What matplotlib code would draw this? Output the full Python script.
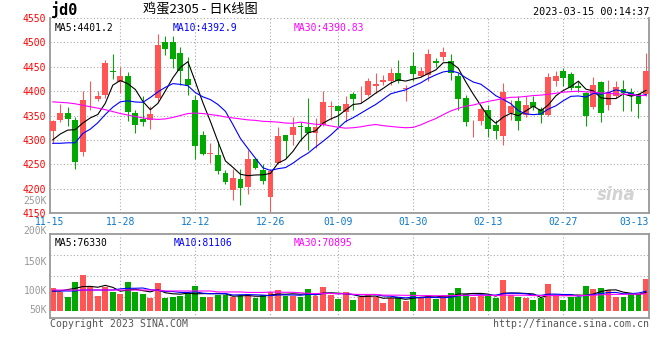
import numpy as np
import matplotlib.pyplot as plt

plt.rcParams['font.family'] = ['DejaVu Sans Mono', 'Noto Sans CJK SC']

# ---- data (egg futures jd2305, daily) ----
x_labels = ['11-15', '11-28', '12-12', '12-26', '01-09', '01-30', '02-13', '02-27', '03-13']
x_label_idx = [0, 9, 19, 29, 38, 48, 58, 68, 78]

open_ = [4318, 4340, 4355, 4341, 4275, 4389, 4384, 4393, 4442, 4418,
         4430, 4356, 4343, 4341, 4386, 4500, 4500, 4478, 4425, 4382,
         4311, 4272, 4268, 4233, 4197, 4219, 4204, 4260, 4239, 4182,
         4253, 4310, 4309, 4328, 4327, 4314, 4330, 4368, 4370, 4358,
         4395, 4385, 4392, 4410, 4418, 4420, 4438, 4405, 4452, 4432,
         4433, 4461, 4469, 4462, 4431, 4386, 4330, 4338, 4361, 4331,
         4307, 4355, 4380, 4352, 4378, 4363, 4352, 4420, 4441, 4435,
         4411, 4396, 4367, 4418, 4372, 4390, 4405, 4399, 4394, 4395]
high = [4340, 4374, 4367, 4347, 4401, 4421, 4401, 4464, 4476, 4449,
        4440, 4362, 4390, 4370, 4517, 4514, 4514, 4491, 4471, 4392,
        4318, 4294, 4297, 4239, 4241, 4241, 4280, 4262, 4250, 4239,
        4326, 4311, 4347, 4336, 4386, 4345, 4401, 4379, 4372, 4389,
        4399, 4410, 4427, 4438, 4433, 4448, 4464, 4413, 4481, 4449,
        4486, 4467, 4491, 4476, 4437, 4393, 4341, 4372, 4372, 4341,
        4416, 4382, 4389, 4389, 4389, 4367, 4437, 4442, 4447, 4440,
        4420, 4399, 4430, 4420, 4423, 4420, 4423, 4406, 4396, 4479]
low = [4294, 4336, 4328, 4241, 4267, 4362, 4379, 4386, 4424, 4396,
       4338, 4314, 4329, 4323, 4379, 4474, 4447, 4413, 4392, 4260,
       4268, 4253, 4229, 4209, 4177, 4167, 4190, 4241, 4209, 4153,
       4250, 4263, 4290, 4297, 4280, 4284, 4328, 4341, 4329, 4336,
       4362, 4376, 4389, 4397, 4413, 4413, 4416, 4379, 4420, 4430,
       4420, 4450, 4461, 4423, 4362, 4329, 4306, 4331, 4306, 4301,
       4290, 4341, 4321, 4347, 4362, 4335, 4348, 4411, 4411, 4403,
       4399, 4329, 4363, 4336, 4362, 4386, 4359, 4359, 4345, 4389]
close = [4338, 4355, 4343, 4254, 4382, 4391, 4390, 4458, 4440, 4430,
         4358, 4331, 4336, 4354, 4495, 4486, 4466, 4442, 4413, 4288,
         4272, 4274, 4236, 4214, 4222, 4201, 4260, 4243, 4216, 4236,
         4307, 4297, 4327, 4327, 4314, 4327, 4377, 4369, 4359, 4374,
         4384, 4386, 4420, 4415, 4423, 4438, 4420, 4407, 4435, 4442,
         4476, 4457, 4481, 4437, 4384, 4336, 4331, 4364, 4322, 4318,
         4399, 4370, 4338, 4372, 4367, 4352, 4430, 4431, 4427, 4407,
         4407, 4348, 4413, 4356, 4399, 4408, 4396, 4389, 4373, 4442]
# volume in thousands of lots
volume = [96, 79, 58, 121, 148, 100, 61, 97, 79, 69,
          121, 79, 69, 54, 117, 54, 58, 61, 75, 103,
          58, 58, 65, 65, 55, 65, 65, 51, 65, 79,
          86, 61, 61, 55, 90, 61, 100, 65, 49, 79,
          44, 58, 69, 55, 33, 51, 55, 42, 79, 51,
          65, 49, 61, 75, 96, 69, 58, 61, 61, 54,
          128, 65, 58, 54, 44, 54, 111, 61, 44, 55,
          55, 103, 90, 96, 86, 58, 55, 68, 68, 132]

# moving-average values before a full window exists
ma5_head = [4300, 4312, 4320, 4321]
ma10_head = [4293, 4293, 4294, 4294, 4313, 4322, 4335, 4352, 4367]
ma30_head = [4378, 4377, 4376, 4374, 4371, 4368, 4365, 4362, 4358, 4354,
             4351, 4348, 4345, 4343, 4342, 4343, 4346, 4350, 4354, 4355,
             4354, 4352, 4350, 4347, 4345, 4343, 4341, 4340, 4338]
vma5_head = [82, 82, 88, 93]
vma10_head = [82, 82, 82, 82, 86, 86, 86, 86, 86]
vma30_head = [86] * 15 + [82] * 7 + [78] * 4 + [76] * 3


def moving_avg(vals, n, head):
    out = list(head)
    for i in range(n - 1, len(vals)):
        out.append(np.mean(vals[i - n + 1:i + 1]))
    return np.array(out)


RED = '#ff5555'
GREEN = '#00a800'
GRID = '#aaaaaa'
BORDER = '#999999'
W, H = 660, 360

o = np.array(open_)
c = np.array(close)
hi = np.array(high)
lo = np.array(low)
n = len(c)
x = np.arange(n)
up = c >= o
cols = np.where(up, RED, GREEN)

fig = plt.figure(figsize=(6.6, 3.6), dpi=100)
fig.patch.set_facecolor('white')

xl = (-0.36, 79.4)
ax = fig.add_axes([50 / W, 1 - 213 / H, 599 / W, 195 / H])
vax = fig.add_axes([50 / W, 1 - 318.3 / H, 599 / W, 84 / H])

# ---------- price panel ----------
ax.set_xlim(xl)
ax.set_ylim(4150, 4550)
for lvl in range(4200, 4551, 50):
    ax.axhline(lvl, color=GRID, lw=0.8, ls=(0, (1, 2)), zorder=0, clip_on=False)
for i in x_label_idx[1:-1]:
    ax.axvline(i, color=GRID, lw=0.8, ls=(0, (1, 2)), zorder=0)

ax.vlines(x, lo, hi, colors=cols, lw=0.75, zorder=2)
body_lo = np.minimum(o, c)
body_h = np.maximum(np.abs(c - o), 1.5)
ax.bar(x, body_h, bottom=body_lo, width=0.78, color=cols, zorder=3)

ax.plot(x, moving_avg(close, 5, ma5_head), color='black', lw=0.8, zorder=4)
ax.plot(x, moving_avg(close, 10, ma10_head), color='#0000ff', lw=0.8, zorder=4)
ax.plot(x, moving_avg(close, 30, ma30_head), color='#ff00ff', lw=0.8, zorder=4)

ax.set_yticks(range(4150, 4551, 50))
ax.tick_params(axis='y', length=0, pad=3, labelsize=7, labelcolor='#ff0000')
pos = [xl[0]] + x_label_idx[1:-1] + [xl[1]]
ax.set_xticks(pos)
ax.set_xticklabels(x_labels, fontsize=7, color='#0a78cc')
ax.tick_params(axis='x', length=0, pad=3)
ax.get_xticklabels()[-1].set_ha('right')
for s in ['left', 'right', 'bottom']:
    ax.spines[s].set_color(BORDER)
    ax.spines[s].set_linewidth(1.3)
ax.spines['top'].set_visible(False)

ax.text(0.007, 0.975, 'MA5:4401.2', transform=ax.transAxes, fontsize=7, color='black', va='top')
ax.text(0.205, 0.975, 'MA10:4392.9', transform=ax.transAxes, fontsize=7, color='#0000ff', va='top')
ax.text(0.407, 0.975, 'MA30:4390.83', transform=ax.transAxes, fontsize=7, color='#ff00ff', va='top')
ax.text(0.978, 0.09, 'sina', transform=ax.transAxes, fontsize=12, color='#d2d2d2',
        style='italic', weight='bold', family='DejaVu Sans', ha='right', va='center')

# ---------- volume panel ----------
vax.set_xlim(xl)
vlo, vhi = -31.6, 317.8
vax.set_ylim(vlo, vhi)
for f in (0.25, 0.5, 0.75):
    vax.axhline(vlo + f * (vhi - vlo), color=GRID, lw=0.8, ls=(0, (1, 2)), zorder=0)
for i in x_label_idx[1:-1]:
    vax.axvline(i, color=GRID, lw=0.8, ls=(0, (1, 2)), zorder=0)
vax.bar(x, volume, width=0.78, color=cols, zorder=2)
vax.plot(x, moving_avg(volume, 5, vma5_head), color='black', lw=0.8, zorder=3)
vax.plot(x, moving_avg(volume, 10, vma10_head), color='#0000ff', lw=0.8, zorder=3)
vax.plot(x, moving_avg(volume, 30, vma30_head), color='#ff00ff', lw=0.8, zorder=3)
vax.set_xticks([])
vax.set_yticks([])
for s in vax.spines.values():
    s.set_color(BORDER)
    s.set_linewidth(1.3)
vax.text(0.007, 0.95, 'MA5:76330', transform=vax.transAxes, fontsize=7, color='black', va='top')
vax.text(0.207, 0.95, 'MA10:81106', transform=vax.transAxes, fontsize=7, color='#0000ff', va='top')
vax.text(0.407, 0.95, 'MA30:70895', transform=vax.transAxes, fontsize=7, color='#ff00ff', va='top')

# volume scale labels (placed as on the original)
for lab, yp in [('250K', 200.7), ('200K', 230.7), ('150K', 261.7), ('100K', 290.7), ('50K', 310)]:
    fig.text(47 / W, 1 - yp / H, lab, fontsize=7, color='#999999', ha='right', va='center')

# ---------- header / footer ----------
fig.text(51 / W, 1 - 10 / H, 'jd0', fontsize=11, weight='bold', ha='left', va='center')
fig.text(200 / W, 1 - 10 / H, '鸡蛋2305 - 日K线图', fontsize=9.5,
         family=['Noto Sans CJK SC', 'DejaVu Sans'], ha='center', va='center')
fig.text(649 / W, 1 - 12 / H, '2023-03-15 00:14:37', fontsize=7.3, ha='right', va='center')
fig.text(50 / W, 1 - 324 / H, 'Copyright 2023 SINA.COM', fontsize=7.1, color='#555555',
         ha='left', va='center')
fig.text(649 / W, 1 - 324 / H, 'http://finance.sina.com.cn', fontsize=7.1, color='#555555',
         ha='right', va='center')

fig.savefig('out.png', dpi=100)
